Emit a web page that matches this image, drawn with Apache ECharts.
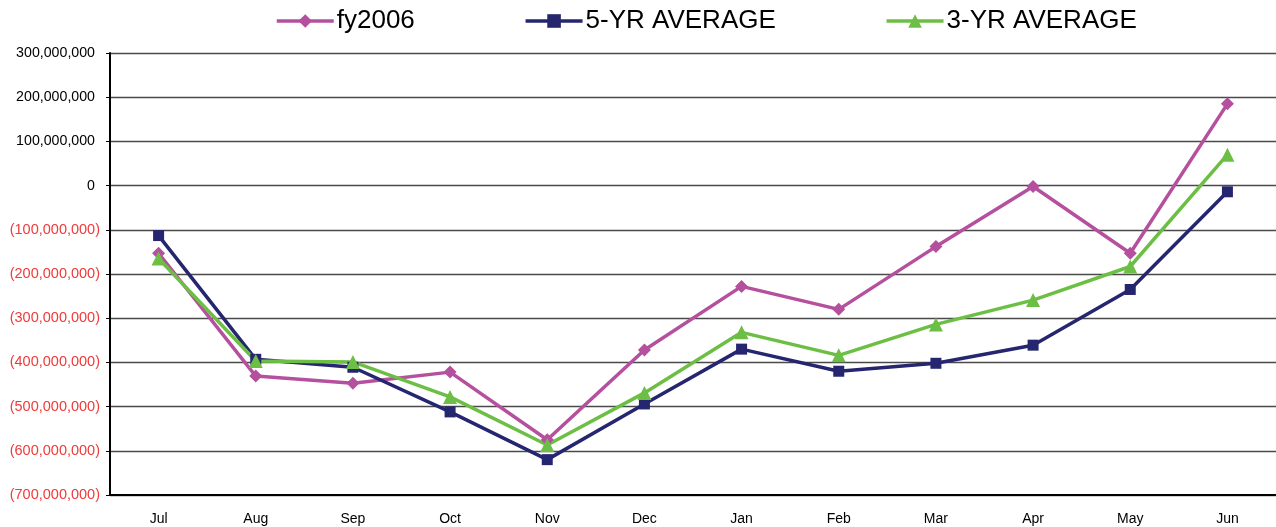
<!DOCTYPE html>
<html>
<head>
<meta charset="utf-8">
<script src="https://cdn.jsdelivr.net/npm/echarts@6/dist/echarts.min.js"></script>
<style>
  html, body { margin: 0; padding: 0; background: #fff; }
  #chart { width: 1276px; height: 527px; }
</style>
</head>
<body>
<div id="chart"></div>
<script>
// months of the fiscal year
var months = ['Jul', 'Aug', 'Sep', 'Oct', 'Nov', 'Dec', 'Jan', 'Feb', 'Mar', 'Apr', 'May', 'Jun'];
// values
var fy2006 = [-153e6, -431e6, -447e6, -422e6, -575e6, -372e6, -228e6, -280e6, -138e6, -2e6, -153e6, 185e6];
var avg5yr = [-113e6, -393e6, -411e6, -512e6, -620e6, -494e6, -370e6, -420e6, -402e6, -361e6, -235e6, -14e6];
var avg3yr = [-165e6, -397e6, -399e6, -478e6, -587e6, -469e6, -332e6, -384e6, -314e6, -259e6, -183e6, 70e6];

var chart = echarts.init(document.getElementById('chart'));

// accounting style: negatives in brackets, positives padded to line up
function fmt(v) {
  var s = Math.abs(v).toString().replace(/\B(?=(\d{3})+(?!\d))/g, ',');
  return v < 0 ? '{n|(' + s + ')}' : '{p|' + s + '}';
}

chart.setOption({
  animation: false,
  textStyle: { fontFamily: 'Liberation Sans, Arial, sans-serif' },
  legend: {
    top: 3,
    left: 270,
    itemWidth: 57,
    itemHeight: 17,
    itemGap: 109,
    lineStyle: { width: 3.5 },
    textStyle: { fontSize: 26, color: '#000', padding: [0, 0, 0, -2] },
    data: ['fy2006', '5-YR AVERAGE', '3-YR AVERAGE']
  },
  grid: { left: 110, right: -3, top: 53, bottom: 32 },
  xAxis: {
    type: 'category',
    data: months,
    boundaryGap: true,
    axisLine: { onZero: false, lineStyle: { color: '#000', width: 2 } },
    axisTick: { show: false },
    axisLabel: { color: '#000', fontSize: 14, margin: 17 }
  },
  yAxis: {
    type: 'value',
    min: -700e6,
    max: 300e6,
    interval: 100e6,
    axisLine: { show: true, lineStyle: { color: '#000', width: 2 } },
    axisTick: { show: true, length: 4, lineStyle: { color: '#000' } },
    splitLine: { lineStyle: { color: '#4a4a4a', width: 1.3 } },
    axisLabel: {
      margin: 10,
      formatter: fmt,
      rich: {
        p: { fontSize: 14.2, color: '#000', padding: [0, 5, 0, 0] },
        n: { fontSize: 14.5, color: '#f03a3a' }
      }
    }
  },
  series: [
    {
      name: 'fy2006', type: 'line', data: fy2006,
      symbol: 'diamond', symbolSize: 13,
      lineStyle: { width: 3.5, color: '#b5509f' },
      itemStyle: { color: '#b5509f' }
    },
    {
      name: '5-YR AVERAGE', type: 'line', data: avg5yr,
      symbol: 'rect', symbolSize: 11,
      lineStyle: { width: 3.5, color: '#25266f' },
      itemStyle: { color: '#25266f' }
    },
    {
      name: '3-YR AVERAGE', type: 'line', data: avg3yr,
      symbol: 'triangle', symbolSize: 14,
      lineStyle: { width: 3.5, color: '#6cbf44' },
      itemStyle: { color: '#6cbf44' }
    }
  ]
});
</script>
</body>
</html>
